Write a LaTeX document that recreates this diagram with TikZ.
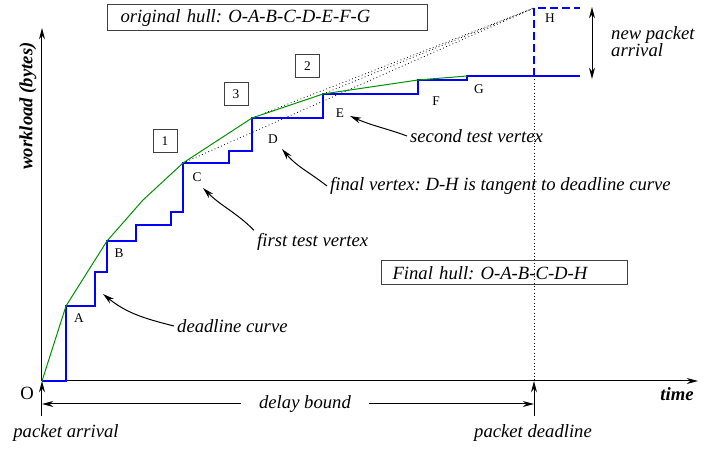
\documentclass[tikz,border=0pt]{standalone}
\usepackage{fontspec}
\setmainfont{Liberation Serif}
\usetikzlibrary{arrows.meta, positioning}
\definecolor{hullgreen}{RGB}{0, 145, 0}
\definecolor{stepblue}{RGB}{0, 0, 255}
\frenchspacing

\begin{document}
\begin{tikzpicture}[x=0.75pt, y=0.75pt, >={Stealth[length=8.5pt, width=4.5pt]}, line width=0.75pt,
    txt/.style={font=\fontsize{14}{16}\selectfont\itshape, inner sep=2pt},
    axistxt/.style={font=\fontsize{14}{16}\selectfont\bfseries\itshape, inner sep=2pt},
    vlabel/.style={font=\fontsize{10}{12}\selectfont, inner sep=1pt},
    numbox/.style={draw=black!75, font=\fontsize{10}{12}\selectfont, minimum width=18pt, minimum height=17pt, inner sep=0pt},
    hullbox/.style={draw=black!75, txt, anchor=west, align=left, minimum height=19.5pt},
    stepline/.style={stepblue, line width=1.1pt},
    hullline/.style={hullgreen, line width=0.75pt},
    tangent/.style={dotted, line width=0.6pt}]
    \useasboundingbox (-42,-68) rectangle (676,381);

    % hull vertices
    \coordinate (O) at (0,0);
    \coordinate (A) at (24,75);
    \coordinate (B) at (65,140);
    \coordinate (C) at (141,218);
    \coordinate (D) at (210,263);
    \coordinate (E) at (281,287);
    \coordinate (F) at (376,301);
    \coordinate (G) at (425,305);
    \coordinate (H) at (492,373);
    \coordinate (Dl) at (492,0);
    \coordinate (DlTop) at (492,305);

    % axes
    \coordinate (yEnd) at (0,353);
    \coordinate (xEnd) at (656,0);
    \draw[->] (O) -- (yEnd);
    \draw[->] (O) -- (xEnd);
    \node[axistxt] (time) at (635,-13) {time};
    \node[axistxt, rotate=90] (work) at (-14,275) {workload (bytes)};
    \node[txt] (orig) at (-15,-12) {\upshape O};

    % arrival, deadline and delay bound
    \coordinate (arrBot) at (0,-35);
    \coordinate (dlBot) at (492,-35);
    \draw[->] (arrBot) -- (O);
    \draw[->] (dlBot) -- (Dl);
    \coordinate (delL) at (0,-23);
    \coordinate (delR) at (492,-23);
    \node[txt, inner xsep=13pt] (delay) at (263,-23) {delay bound};
    \draw[->] (delay.west) -- (delL);
    \draw[->] (delay.east) -- (delR);
    \node[txt] (parr) at (24,-52) {packet arrival};
    \node[txt] (pdl) at (491,-52) {packet deadline};

    % tangent candidates and deadline
    \draw[tangent] (C) -- (H);
    \draw[tangent] (D) -- (H);
    \draw[tangent] (E) -- (H);
    \draw[dotted, line width=0.5pt] (DlTop) -- (Dl);

    % workload staircase and deadline curve
    \draw[stepline] (O) -- (24,0) -- (A) -- (53,75) -- (53,109) -- (65,109) -- (B)
        -- (94,140) -- (94,156) -- (129,156) -- (129,169) -- (141,169) -- (C)
        -- (187,218) -- (187,230) -- (210,230) -- (D) -- (281,263) -- (E)
        -- (376,287) -- (F) -- (425,301) -- (G) -- (538,305);
    \draw[stepline, dashed, dash pattern=on 6pt off 3pt] (DlTop) -- (H) -- (538,373);
    \draw[hullline] (O) -- (A) -- (B) -- (101,181) -- (C) -- (D) -- (E) -- (F) -- (G);

    % vertex labels
    \node[vlabel] (labA) at (37,63) {A};
    \node[vlabel] (labB) at (77,128) {B};
    \node[vlabel] (labC) at (155,204) {C};
    \node[vlabel] (labD) at (231,242) {D};
    \node[vlabel] (labE) at (298,268) {E};
    \node[vlabel] (labF) at (394,280) {F};
    \node[vlabel] (labG) at (437,292) {G};
    \node[vlabel] (labH) at (508,363) {H};

    \node[numbox] (n1) at (123,240) {1};
    \node[numbox] (n3) at (194,287) {3};
    \node[numbox] (n2) at (265.5,315) {2};

    % new packet
    \coordinate (npTop) at (550,374);
    \coordinate (npBot) at (550,302);
    \draw[<->] (npTop) -- (npBot);
    \node[font=\fontsize{14}{12.75}\selectfont\itshape, inner sep=2pt, anchor=west, align=left] (newp) at (566,339.5) {new packet\\arrival};

    % hull boxes
    \node[hullbox, text width=220.5pt, inner xsep=9.75pt] (ohull) at (65,363) {original hull: O-A-B-C-D-E-F-G};
    \node[hullbox, text width=168pt, inner xsep=8.25pt, minimum height=18pt] (fhull) at (339,108) {Final hull: O-A-B-C-D-H};

    % annotations
    \coordinate (tipA) at (61,87);
    \coordinate (tipC) at (161,193);
    \coordinate (tipD) at (240,232);
    \coordinate (tipE) at (308,265);
    \node[txt, anchor=west] (dlc) at (132,55) {deadline curve};
    \node[txt, anchor=west] (ftv) at (212,139) {first test vertex};
    \node[txt, anchor=west] (fv) at (285,195) {final vertex: D-H is tangent to deadline curve};
    \node[txt, anchor=west] (stv) at (365,245) {second test vertex};
    \draw[->] (dlc.west) to[out=166, in=-39] (tipA);
    \draw[->] (ftv.north west) to[out=135, in=-45] (tipC);
    \draw[->] (fv.west) to[out=142, in=-50] (tipD);
    \draw[->] (stv.west) to[out=160, in=-24] (tipE);
\end{tikzpicture}
\end{document}
